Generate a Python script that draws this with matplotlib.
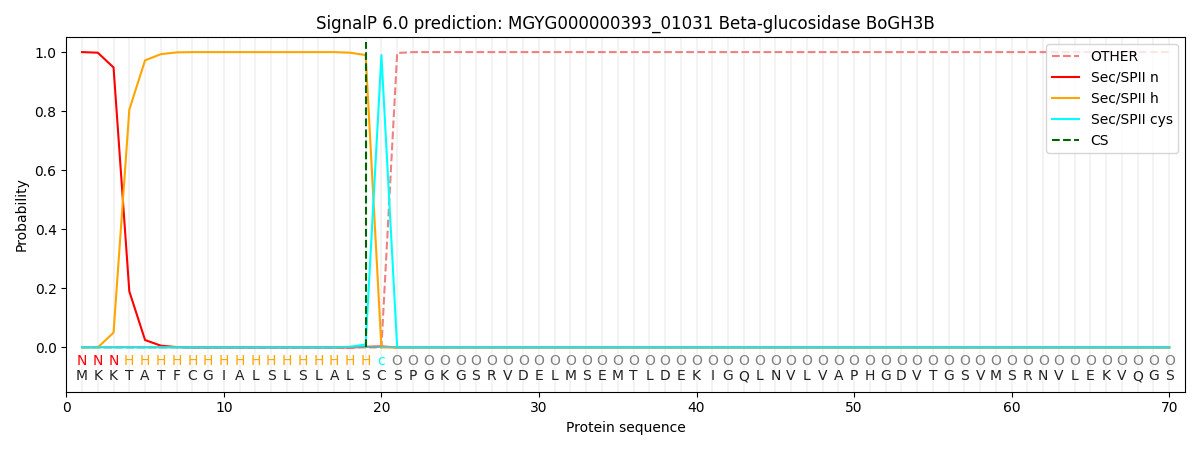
import matplotlib
matplotlib.use("Agg")
import matplotlib.pyplot as plt

title = "SignalP 6.0 prediction: MGYG000000393_01031 Beta-glucosidase BoGH3B"

sequence = list("MKKTATFCGIALSLSLALSCSPGKGSRVDELMSEMTLDEKIGQLNVLVAPHGDVTGSVMSRNVLEKVQGS")
region = list("NNN" + "H" * 16 + "c" + "O" * 50)

positions = list(range(1, len(sequence) + 1))

other = [0.0] * 19 + [0.0, 0.997] + [1.0] * 49
sp_n = [1.0, 0.998, 0.948, 0.19, 0.025, 0.006, 0.001] + [0.0] * 11 + [0.002, 0.003] + [0.0] * 50
sp_h = [0.0, 0.0, 0.05, 0.805, 0.972, 0.993, 0.999] + [1.0] * 10 + [0.998, 0.99, 0.0] + [0.0] * 50
sp_cys = [0.0] * 17 + [0.002, 0.01, 0.99] + [0.0] * 50
cs_pos = 19

region_colors = {"N": "red", "H": "orange", "c": "cyan", "O": "gray"}

fig, ax = plt.subplots(figsize=(12, 4.5))

for p in positions:
    ax.axvline(p, color="lightgray", alpha=0.3, linewidth=1.2, zorder=0)

ax.plot(positions, other, color="lightcoral", linestyle="--", label="OTHER")
ax.plot(positions, sp_n, color="red", label="Sec/SPII n")
ax.plot(positions, sp_h, color="orange", label="Sec/SPII h")
ax.plot(positions, sp_cys, color="cyan", label="Sec/SPII cys")
ax.plot(positions, [0.0] * len(positions), color="mediumturquoise", linewidth=1.5, alpha=0.8)
ax.vlines(cs_pos, 0, 1.035, color="darkgreen", linestyle="--", label="CS")

for p, aa, r in zip(positions, sequence, region):
    ax.text(p, -0.047, r, ha="center", va="center", fontsize=10, color=region_colors[r])
    ax.text(p, -0.098, aa, ha="center", va="center", fontsize=10, color="#222222")

ax.set_xlim(0, 71)
ax.set_ylim(-0.15, 1.05)
ax.set_xlabel("Protein sequence")
ax.set_ylabel("Probability")
ax.set_title(title)
ax.legend(loc="upper right")

plt.tight_layout()
plt.savefig("out.png", dpi=100)
